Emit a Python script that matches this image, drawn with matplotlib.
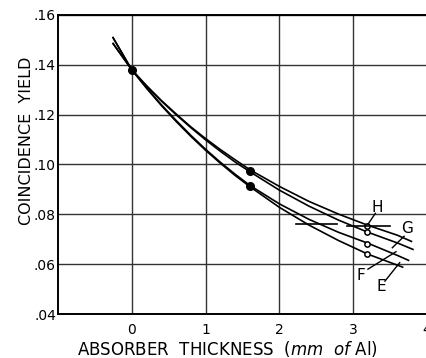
import matplotlib.pyplot as plt

# curves (absorber thickness in mm Al, coincidence yield)
x_H = [-0.26, 0.0, 0.2, 0.4, 0.6, 0.8, 1.0, 1.2, 1.4, 1.6, 2.0, 2.4, 2.8, 3.2, 3.6, 3.80]
y_H = [0.1488, 0.138, 0.1316, 0.1257, 0.1203, 0.1151, 0.1104, 0.1060, 0.1019, 0.0979,
       0.0912, 0.0852, 0.0801, 0.0756, 0.0716, 0.0690]
x_G = [-0.26, 0.0, 0.2, 0.4, 0.6, 0.8, 1.0, 1.2, 1.4, 1.6, 2.0, 2.4, 2.8, 3.2, 3.6, 3.82]
y_G = [0.1488, 0.138, 0.1315, 0.1255, 0.1200, 0.1148, 0.1099, 0.1053, 0.1010, 0.0971,
       0.0897, 0.0833, 0.0777, 0.0728, 0.0685, 0.0658]
x_F = [-0.26, 0.0, 0.2, 0.4, 0.6, 0.8, 1.0, 1.2, 1.4, 1.6, 2.0, 2.4, 2.8, 3.2, 3.6, 3.76]
y_F = [0.1512, 0.138, 0.1308, 0.1240, 0.1177, 0.1117, 0.1061, 0.1009, 0.0961, 0.0916,
       0.0842, 0.0780, 0.0728, 0.0684, 0.0635, 0.0614]
x_E = [-0.26, 0.0, 0.2, 0.4, 0.6, 0.8, 1.0, 1.2, 1.4, 1.6, 2.0, 2.4, 2.8, 3.2, 3.68]
y_E = [0.1512, 0.138, 0.1306, 0.1237, 0.1173, 0.1113, 0.1057, 0.1005, 0.0956, 0.0911,
       0.0828, 0.0757, 0.0695, 0.0640, 0.0587]

# measured points
x_filled = [0.0, 1.6, 1.6]
y_filled = [0.138, 0.0975, 0.0913]
x_open = [3.19, 3.19, 3.19, 3.19]
y_open = [0.0754, 0.0728, 0.0682, 0.0640]

# horizontal level marks
level_segments = [((2.22, 2.78), 0.0760), ((2.92, 3.50), 0.0755)]

# curve labels: text position, leader start, leader end
labels = {
    'H': ((3.32, 0.0828), (3.30, 0.0804), (3.20, 0.0760)),
    'G': ((3.73, 0.0744), (3.69, 0.0712), (3.53, 0.0666)),
    'F': ((3.11, 0.0556), (3.20, 0.0580), (3.58, 0.0650)),
    'E': ((3.38, 0.0512), (3.43, 0.0532), (3.63, 0.0606)),
}

x_ticks = [0, 1, 2, 3, 4]
y_ticks = [0.04, 0.06, 0.08, 0.10, 0.12, 0.14, 0.16]
y_ticklabels = ['.04', '.06', '.08', '.10', '.12', '.14', '.16']

plt.rcParams['mathtext.fontset'] = 'dejavusans'

fig = plt.figure(figsize=(4.26, 3.58), dpi=100)
ax = fig.add_axes([58/426, 1 - 314/358, 369/426, 299/358])

ax.set_xlim(-1, 4)
ax.set_ylim(0.04, 0.16)
ax.set_xticks(x_ticks)
ax.set_yticks(y_ticks)
ax.set_yticklabels(y_ticklabels)
ax.tick_params(length=0, labelsize=10, colors='black')
ax.tick_params(axis='x', pad=6.5)
ax.tick_params(axis='y', pad=1.5)
ax.grid(True, color='#333333', linewidth=1.0)
ax.set_axisbelow(True)
for s in ['left', 'bottom', 'top']:
    ax.spines[s].set_linewidth(1.4)
ax.spines['right'].set_visible(False)

for xs, ys in [(x_H, y_H), (x_G, y_G), (x_F, y_F), (x_E, y_E)]:
    ax.plot(xs, ys, color='black', lw=1.2, solid_capstyle='butt')

ax.plot(x_filled, y_filled, 'o', color='black', ms=5.5)
ax.plot(x_open, y_open, 'o', mfc='white', mec='black', mew=1.1, ms=3.8)

for (x0, x1), y in level_segments:
    ax.plot([x0, x1], [y, y], color='black', lw=1.2)

for name, (pos, p0, p1) in labels.items():
    ax.text(pos[0], pos[1], name, fontsize=11, ha='center', va='center')
    ax.plot([p0[0], p1[0]], [p0[1], p1[1]], color='black', lw=1.0)

ax.set_xlabel(r'ABSORBER  THICKNESS  ($\mathit{mm\ \ of}$ Al)', fontsize=12)
ax.xaxis.set_label_coords(0.458, -0.085)
fig.text(27/426, 1 - 141/358, 'COINCIDENCE  YIELD', rotation=90,
         ha='center', va='center', fontsize=11.5)

fig.savefig('out.png', dpi=100)
